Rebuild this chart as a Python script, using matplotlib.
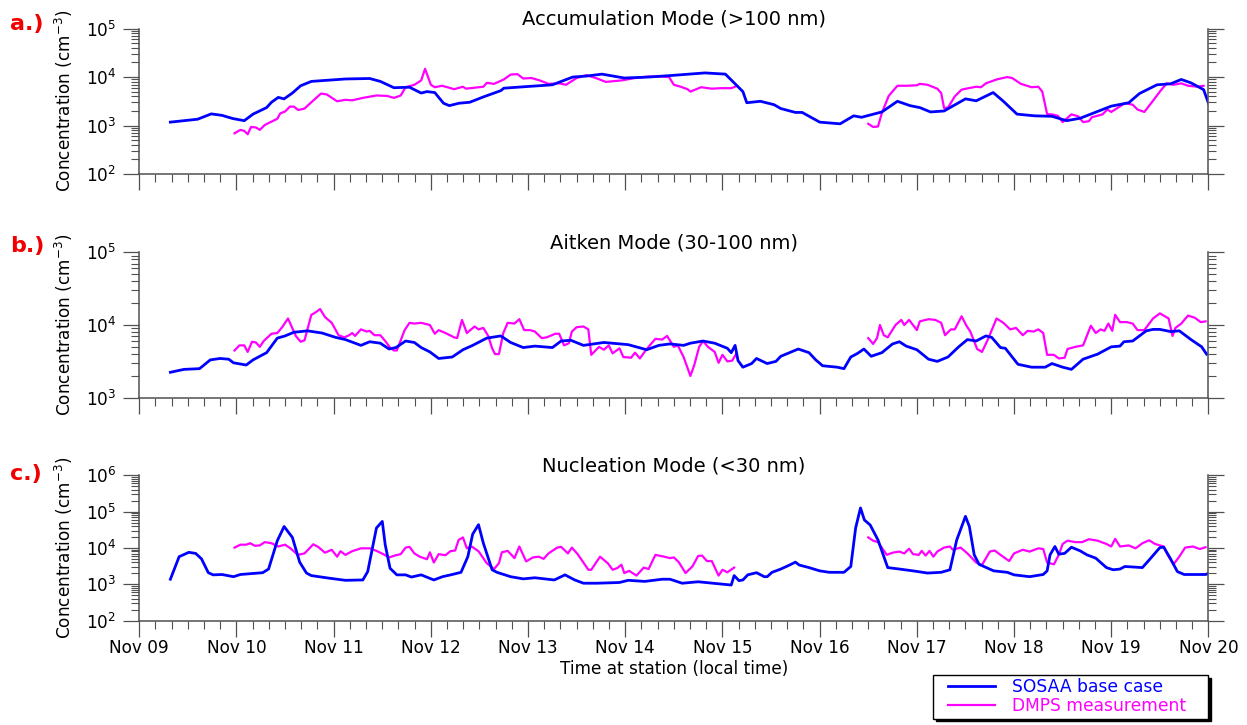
import numpy as np
import matplotlib.pyplot as plt
from matplotlib.ticker import LogLocator, NullFormatter
from matplotlib.legend_handler import HandlerLine2D

# time in days after Nov 09 00:00, values are log10 of concentration (cm-3)
day_labels = ["Nov 09", "Nov 10", "Nov 11", "Nov 12", "Nov 13", "Nov 14",
              "Nov 15", "Nov 16", "Nov 17", "Nov 18", "Nov 19", "Nov 20"]

# ---- a.) accumulation mode
acc_sosaa_t = [0.32, 0.60, 0.74, 0.85, 0.96, 1.08, 1.17, 1.31, 1.36, 1.43,
               1.49, 1.575, 1.66, 1.77, 1.91, 2.12, 2.37, 2.48, 2.62, 2.78,
               2.90, 2.96, 3.04, 3.13, 3.19, 3.29, 3.40, 3.54, 3.72, 3.75,
               3.89, 4.25, 4.46, 4.60, 4.76, 4.99, 5.24, 5.46, 5.82, 6.03,
               6.14, 6.21, 6.25, 6.39, 6.53, 6.60, 6.75, 6.82, 7.00, 7.21,
               7.35, 7.43, 7.64, 7.80, 7.93, 8.03, 8.14, 8.28, 8.50, 8.61,
               8.785, 8.89, 9.03, 9.21, 9.39, 9.54, 9.68, 10.0, 10.18, 10.29,
               10.47, 10.61, 10.72, 10.82, 10.95, 11.0]
acc_sosaa = [3.07, 3.13, 3.24, 3.21, 3.145, 3.10, 3.235, 3.37, 3.48, 3.58,
             3.55, 3.67, 3.82, 3.91, 3.93, 3.96, 3.97, 3.91, 3.78, 3.79,
             3.67, 3.70, 3.68, 3.46, 3.41, 3.46, 3.48, 3.59, 3.72, 3.77,
             3.79, 3.84, 4.00, 4.02, 4.06, 3.98, 4.00, 4.03, 4.085, 4.06,
             3.84, 3.70, 3.47, 3.50, 3.43, 3.35, 3.27, 3.27, 3.07, 3.035,
             3.20, 3.17, 3.28, 3.50, 3.41, 3.37, 3.28, 3.30, 3.55, 3.51,
             3.68, 3.50, 3.235, 3.20, 3.19, 3.10, 3.15, 3.40, 3.47, 3.66,
             3.84, 3.86, 3.95, 3.88, 3.74, 3.46]
acc_dmps_t1 = [0.98, 1.04, 1.08, 1.115, 1.15, 1.20, 1.24, 1.29, 1.38, 1.42,
               1.45, 1.50, 1.55, 1.59, 1.635, 1.70, 1.77, 1.87, 1.93, 2.035,
               2.12, 2.19, 2.30, 2.44, 2.55, 2.62, 2.69, 2.74, 2.83, 2.90,
               2.94, 3.00, 3.04, 3.115, 3.24, 3.33, 3.36, 3.54, 3.575, 3.65,
               3.75, 3.82, 3.89, 3.95, 4.035, 4.12, 4.21, 4.32, 4.39, 4.50,
               4.60, 4.71, 4.80, 4.96, 5.10, 5.24, 5.38, 5.45, 5.50, 5.57,
               5.64, 5.67, 5.78, 5.89, 5.98, 6.09, 6.13]
acc_dmps1 = [2.84, 2.91, 2.89, 2.82, 2.97, 2.96, 2.91, 3.01, 3.10, 3.14,
             3.25, 3.29, 3.39, 3.39, 3.32, 3.35, 3.48, 3.66, 3.64, 3.50,
             3.53, 3.52, 3.57, 3.62, 3.61, 3.57, 3.62, 3.79, 3.84, 3.93,
             4.17, 3.84, 3.79, 3.82, 3.75, 3.80, 3.76, 3.80, 3.88, 3.86,
             3.95, 4.05, 4.06, 3.97, 3.98, 3.93, 3.86, 3.87, 3.84, 3.98,
             4.04, 3.97, 3.90, 3.93, 3.98, 4.01, 4.01, 4.00, 3.84, 3.80,
             3.75, 3.70, 3.79, 3.76, 3.77, 3.77, 3.80]
acc_dmps_t2 = [7.50, 7.55, 7.60, 7.64, 7.71, 7.80, 7.89, 8.00, 8.03, 8.11,
               8.21, 8.25, 8.28, 8.32, 8.39, 8.46, 8.53, 8.61, 8.66, 8.71,
               8.82, 8.93, 8.98, 9.07, 9.18, 9.25, 9.29, 9.34, 9.39, 9.45,
               9.50, 9.59, 9.66, 9.71, 9.77, 9.80, 9.91, 9.96, 10.0, 10.07,
               10.14, 10.22, 10.27, 10.34, 10.41, 10.50, 10.57, 10.64, 10.72, 10.79,
               10.89, 10.95]
acc_dmps2 = [3.035, 2.97, 2.98, 3.26, 3.61, 3.82, 3.82, 3.83, 3.86, 3.84,
             3.76, 3.67, 3.36, 3.37, 3.60, 3.74, 3.77, 3.80, 3.79, 3.87,
             3.95, 4.00, 3.98, 3.86, 3.79, 3.80, 3.70, 3.235, 3.23, 3.20,
             3.07, 3.23, 3.19, 3.07, 3.09, 3.17, 3.23, 3.33, 3.28, 3.37,
             3.46, 3.43, 3.33, 3.28, 3.46, 3.70, 3.87, 3.84, 3.87, 3.82,
             3.80, 3.82]

# ---- b.) aitken mode
ait_sosaa_t = [0.32, 0.46, 0.62, 0.73, 0.83, 0.92, 0.97, 1.10, 1.17, 1.31,
               1.42, 1.50, 1.59, 1.73, 1.88, 2.02, 2.12, 2.28, 2.37, 2.48,
               2.57, 2.64, 2.74, 2.83, 2.90, 2.99, 3.08, 3.22, 3.33, 3.43,
               3.575, 3.72, 3.82, 3.95, 4.07, 4.25, 4.34, 4.44, 4.57, 4.78,
               5.03, 5.22, 5.345, 5.46, 5.60, 5.67, 5.80, 5.92, 6.05, 6.09,
               6.13, 6.16, 6.21, 6.30, 6.35, 6.46, 6.55, 6.60, 6.69, 6.78,
               6.89, 6.96, 7.03, 7.18, 7.25, 7.32, 7.39, 7.455, 7.53, 7.64,
               7.75, 7.82, 7.89, 8.00, 8.12, 8.21, 8.32, 8.43, 8.52, 8.61,
               8.71, 8.77, 8.86, 8.91, 9.04, 9.18, 9.32, 9.39, 9.50, 9.59,
               9.71, 9.86, 10.0, 10.09, 10.13, 10.22, 10.36, 10.43, 10.50, 10.61,
               10.70, 10.82, 10.93, 10.98]
ait_sosaa = [3.35, 3.39, 3.40, 3.52, 3.54, 3.53, 3.48, 3.45, 3.52, 3.62,
             3.82, 3.85, 3.90, 3.92, 3.89, 3.83, 3.80, 3.72, 3.77, 3.75,
             3.67, 3.69, 3.78, 3.76, 3.69, 3.63, 3.54, 3.56, 3.66, 3.72,
             3.82, 3.85, 3.76, 3.69, 3.71, 3.69, 3.78, 3.79, 3.72, 3.76,
             3.73, 3.66, 3.72, 3.74, 3.72, 3.75, 3.78, 3.75, 3.68, 3.62,
             3.72, 3.51, 3.42, 3.47, 3.54, 3.47, 3.50, 3.57, 3.62, 3.67,
             3.62, 3.52, 3.44, 3.42, 3.40, 3.56, 3.61, 3.67, 3.57, 3.62,
             3.74, 3.77, 3.71, 3.66, 3.53, 3.50, 3.56, 3.70, 3.80, 3.78,
             3.85, 3.83, 3.69, 3.68, 3.46, 3.42, 3.42, 3.47, 3.42, 3.39,
             3.53, 3.60, 3.70, 3.71, 3.77, 3.78, 3.92, 3.94, 3.94, 3.91,
             3.92, 3.80, 3.70, 3.60]
ait_dmps_t1 = [0.98, 1.03, 1.08, 1.115, 1.16, 1.20, 1.24, 1.28, 1.36, 1.42,
               1.47, 1.53, 1.61, 1.66, 1.70, 1.77, 1.81, 1.86, 1.91, 1.98,
               2.05, 2.11, 2.16, 2.19, 2.22, 2.28, 2.34, 2.37, 2.42, 2.48,
               2.53, 2.58, 2.62, 2.65, 2.73, 2.78, 2.83, 2.90, 2.99, 3.04,
               3.08, 3.15, 3.24, 3.27, 3.32, 3.37, 3.45, 3.49, 3.54, 3.59,
               3.63, 3.66, 3.70, 3.745, 3.79, 3.86, 3.91, 3.96, 4.02, 4.07,
               4.14, 4.19, 4.28, 4.32, 4.37, 4.42, 4.45, 4.50, 4.57, 4.62,
               4.65, 4.73, 4.78, 4.83, 4.87, 4.94, 4.98, 5.06, 5.10, 5.15,
               5.22, 5.31, 5.38, 5.43, 5.50, 5.54, 5.60, 5.67, 5.71, 5.76,
               5.80, 5.85, 5.92, 5.96, 6.00, 6.05, 6.10, 6.14]
ait_dmps1 = [3.65, 3.72, 3.72, 3.63, 3.77, 3.76, 3.70, 3.78, 3.88, 3.89,
             3.97, 4.09, 3.85, 3.77, 3.79, 4.14, 4.17, 4.22, 4.11, 4.03,
             3.86, 3.83, 3.86, 3.89, 3.85, 3.94, 3.91, 3.92, 3.86, 3.86,
             3.78, 3.69, 3.65, 3.65, 3.93, 4.03, 4.02, 4.03, 4.00, 3.88,
             3.93, 3.89, 3.83, 3.82, 4.07, 3.89, 3.98, 3.94, 3.96, 3.85,
             3.68, 3.60, 3.60, 3.89, 4.03, 4.02, 4.08, 3.93, 3.93, 3.91,
             3.82, 3.83, 3.88, 3.88, 3.72, 3.75, 3.91, 3.97, 3.98, 3.94,
             3.59, 3.70, 3.66, 3.72, 3.61, 3.68, 3.56, 3.55, 3.62, 3.54,
             3.67, 3.81, 3.80, 3.85, 3.70, 3.72, 3.56, 3.30, 3.45, 3.70,
             3.78, 3.70, 3.63, 3.48, 3.59, 3.50, 3.51, 3.60]
ait_dmps_t2 = [7.50, 7.55, 7.59, 7.62, 7.66, 7.70, 7.78, 7.84, 7.87, 7.92,
               8.00, 8.03, 8.12, 8.19, 8.25, 8.29, 8.35, 8.39, 8.46, 8.51,
               8.55, 8.62, 8.67, 8.73, 8.82, 8.89, 8.96, 9.02, 9.09, 9.14,
               9.20, 9.25, 9.30, 9.34, 9.41, 9.46, 9.52, 9.55, 9.63, 9.71,
               9.79, 9.84, 9.89, 9.93, 9.97, 10.01, 10.04, 10.09, 10.16, 10.22,
               10.27, 10.34, 10.43, 10.50, 10.59, 10.63, 10.66, 10.72, 10.79, 10.86,
               10.92, 10.97]
ait_dmps2 = [3.82, 3.74, 3.82, 4.00, 3.86, 3.83, 4.00, 4.07, 4.00, 4.07,
             3.93, 4.05, 4.08, 4.07, 4.03, 3.86, 3.94, 3.94, 4.12, 3.99,
             3.91, 3.67, 3.63, 3.80, 4.09, 4.03, 3.94, 3.96, 3.86, 3.92,
             3.91, 3.94, 3.89, 3.59, 3.59, 3.54, 3.55, 3.67, 3.70, 3.72,
             3.99, 3.89, 3.94, 3.92, 4.02, 3.92, 4.14, 4.04, 4.04, 4.02,
             3.93, 3.93, 4.09, 4.16, 4.09, 3.85, 3.96, 4.02, 4.13, 4.10,
             4.04, 4.05]

# ---- c.) nucleation mode
nuc_sosaa_t = [0.32, 0.41, 0.51, 0.58, 0.64, 0.71, 0.76, 0.85, 0.97, 1.04,
               1.27, 1.33, 1.42, 1.49, 1.575, 1.65, 1.72, 1.77, 1.95, 2.12,
               2.30, 2.35, 2.44, 2.50, 2.53, 2.58, 2.65, 2.74, 2.80, 2.90,
               3.03, 3.12, 3.22, 3.31, 3.38, 3.43, 3.49, 3.54, 3.63, 3.68,
               3.82, 3.95, 4.07, 4.27, 4.38, 4.48, 4.57, 4.71, 4.94, 5.03,
               5.20, 5.38, 5.46, 5.585, 5.75, 6.09, 6.12, 6.17, 6.21, 6.26,
               6.35, 6.43, 6.46, 6.51, 6.60, 6.69, 6.75, 6.79, 6.89, 7.00,
               7.10, 7.25, 7.32, 7.37, 7.42, 7.46, 7.52, 7.60, 7.70, 7.82,
               7.96, 8.11, 8.25, 8.34, 8.41, 8.50, 8.54, 8.59, 8.64, 8.79,
               8.93, 9.00, 9.16, 9.30, 9.34, 9.37, 9.42, 9.46, 9.52, 9.59,
               9.68, 9.75, 9.84, 9.95, 10.02, 10.09, 10.14, 10.32, 10.39, 10.50,
               10.54, 10.61, 10.68, 10.75, 10.97, 11.0]
nuc_sosaa = [3.14, 3.76, 3.88, 3.85, 3.70, 3.32, 3.26, 3.27, 3.21, 3.27,
             3.32, 3.42, 4.20, 4.59, 4.29, 3.61, 3.31, 3.24, 3.17, 3.11,
             3.12, 3.35, 4.55, 4.73, 4.09, 3.44, 3.26, 3.26, 3.20, 3.26,
             3.12, 3.21, 3.27, 3.33, 3.76, 4.38, 4.64, 4.13, 3.40, 3.33,
             3.21, 3.15, 3.18, 3.12, 3.26, 3.12, 3.03, 3.03, 3.05, 3.11,
             3.08, 3.14, 3.14, 3.03, 3.07, 2.98, 3.24, 3.10, 3.12, 3.26,
             3.32, 3.21, 3.21, 3.33, 3.42, 3.53, 3.61, 3.53, 3.46, 3.37,
             3.33, 3.33, 3.49, 4.55, 5.10, 4.77, 4.63, 4.22, 3.46, 3.42,
             3.37, 3.31, 3.33, 3.40, 4.22, 4.87, 4.59, 3.81, 3.55, 3.37,
             3.33, 3.26, 3.21, 3.27, 3.37, 3.81, 4.04, 3.83, 3.85, 4.02,
             3.92, 3.81, 3.72, 3.46, 3.40, 3.42, 3.49, 3.46, 3.67, 4.01,
             4.02, 3.70, 3.35, 3.27, 3.27, 3.30]
nuc_dmps_t1 = [0.98, 1.04, 1.10, 1.14, 1.19, 1.24, 1.29, 1.36, 1.43, 1.50,
               1.56, 1.63, 1.70, 1.79, 1.84, 1.91, 1.98, 2.035, 2.07, 2.12,
               2.19, 2.28, 2.37, 2.44, 2.51, 2.57, 2.64, 2.69, 2.74, 2.78,
               2.83, 2.885, 2.96, 2.99, 3.03, 3.08, 3.15, 3.20, 3.25, 3.285,
               3.33, 3.37, 3.42, 3.49, 3.575, 3.65, 3.70, 3.73, 3.79, 3.86,
               3.91, 3.98, 4.05, 4.11, 4.16, 4.21, 4.30, 4.34, 4.41, 4.45,
               4.51, 4.62, 4.65, 4.74, 4.82, 4.87, 4.92, 4.96, 4.99, 5.04,
               5.115, 5.19, 5.24, 5.31, 5.40, 5.46, 5.50, 5.55, 5.62, 5.69,
               5.75, 5.79, 5.84, 5.89, 5.96, 6.00, 6.05, 6.12]
nuc_dmps1 = [4.01, 4.09, 4.09, 4.13, 4.06, 4.07, 4.16, 4.13, 4.04, 4.09,
             3.98, 3.81, 3.85, 4.10, 4.03, 3.87, 3.95, 3.76, 3.91, 3.81,
             3.91, 3.99, 3.99, 3.92, 3.83, 3.74, 3.80, 3.83, 4.01, 4.03,
             3.85, 3.76, 3.69, 3.88, 3.60, 3.83, 3.80, 3.91, 3.93, 4.22,
             4.29, 3.99, 4.04, 3.91, 3.58, 3.42, 3.58, 3.88, 3.92, 3.72,
             4.04, 3.63, 3.74, 3.76, 3.70, 3.85, 4.01, 4.03, 3.85, 4.01,
             3.83, 3.40, 3.40, 3.76, 3.58, 3.40, 3.45, 3.54, 3.31, 3.37,
             3.24, 3.46, 3.42, 3.81, 3.76, 3.72, 3.74, 3.61, 3.31, 3.49,
             3.78, 3.79, 3.64, 3.64, 3.24, 3.40, 3.33, 3.46]
nuc_dmps_t2 = [7.50, 7.55, 7.60, 7.69, 7.75, 7.82, 7.87, 7.92, 7.96, 8.02,
               8.05, 8.09, 8.13, 8.17, 8.21, 8.28, 8.34, 8.37, 8.45, 8.52,
               8.61, 8.67, 8.75, 8.80, 8.87, 8.95, 9.00, 9.09, 9.16, 9.25,
               9.30, 9.34, 9.41, 9.46, 9.50, 9.55, 9.63, 9.70, 9.77, 9.86,
               9.95, 10.0, 10.04, 10.09, 10.18, 10.25, 10.32, 10.39, 10.45, 10.54,
               10.58, 10.64, 10.70, 10.76, 10.84, 10.91, 10.97]
nuc_dmps2 = [4.29, 4.20, 4.16, 3.81, 3.87, 3.90, 3.85, 3.98, 3.83, 3.81,
             3.92, 3.79, 3.92, 3.76, 3.90, 4.01, 4.04, 3.95, 4.01, 3.85,
             3.60, 3.53, 3.90, 3.93, 3.79, 3.64, 3.85, 3.95, 3.90, 3.99,
             3.97, 3.60, 3.55, 3.81, 4.11, 4.20, 4.16, 4.16, 4.24, 4.20,
             4.11, 4.04, 4.25, 4.04, 4.07, 3.99, 4.13, 4.21, 4.11, 4.04,
             3.81, 3.55, 3.76, 4.01, 4.04, 3.97, 4.02]


class InsetLine(HandlerLine2D):
	# legend line that starts a little in from the frame edge
	def get_xdata(self, legend, xdescent, ydescent, width, height, fontsize):
		xdata, xmark = super().get_xdata(legend, xdescent, ydescent, width, height, fontsize)
		return np.array([xdata[0] + 0.2 * width, xdata[-1]]), xmark


def style_axis(ax, ylo, yhi, last):
	gray = "#505050"
	ax.set_yscale("log")
	ax.set_xlim(0, 11)
	ax.set_ylim(ylo, yhi)
	ax.spines["top"].set_visible(False)
	for s in ["left", "right", "bottom"]:
		ax.spines[s].set_color(gray)
		ax.spines[s].set_linewidth(1.1)
	ax.set_xticks(range(12))
	ax.set_xticks(np.arange(0, 11.001, 1 / 6), minor=True)
	ax.yaxis.set_major_locator(LogLocator(base=10, numticks=20))
	ax.yaxis.set_minor_locator(LogLocator(base=10, subs=np.arange(2, 10), numticks=100))
	ax.yaxis.set_minor_formatter(NullFormatter())
	ax.tick_params(which="major", length=11.5, width=0.9, color=gray, labelsize=12.2)
	ax.tick_params(which="minor", length=5.5, width=0.8, color=gray)
	ax.tick_params(axis="y", which="both", right=True, pad=5)
	ax.tick_params(axis="x", which="both", pad=2)
	if last:
		ax.set_xticklabels(day_labels)
	else:
		ax.tick_params(axis="x", labelbottom=False)
	ax.set_ylabel("Concentration (cm$^{-3}$)", fontsize=12.2)
	ax.yaxis.set_label_coords(-0.060, 0.5)


def main():
	fig = plt.figure(figsize=(12.47, 7.25), dpi=100)
	left, width, height = 0.1117, 0.8574, 0.2006
	ax_a = fig.add_axes([left, 0.7600, width, height])
	ax_b = fig.add_axes([left, 0.4514, width, height])
	ax_c = fig.add_axes([left, 0.1439, width, height])

	blue = "#0000ff"
	pink = "#ff00ff"
	panels = [
		(ax_a, acc_sosaa_t, acc_sosaa, [(acc_dmps_t1, acc_dmps1), (acc_dmps_t2, acc_dmps2)],
		 1e2, 1e5, "Accumulation Mode (>100 nm)", "a.)", 24),
		(ax_b, ait_sosaa_t, ait_sosaa, [(ait_dmps_t1, ait_dmps1), (ait_dmps_t2, ait_dmps2)],
		 1e3, 1e5, "Aitken Mode (30-100 nm)", "b.)", 246),
		(ax_c, nuc_sosaa_t, nuc_sosaa, [(nuc_dmps_t1, nuc_dmps1), (nuc_dmps_t2, nuc_dmps2)],
		 1e2, 1e6, "Nucleation Mode (<30 nm)", "c.)", 474),
	]
	for ax, st, sv, dmps, ylo, yhi, title, tag, tag_y in panels:
		for k, (dt, dv) in enumerate(dmps):
			ax.plot(dt, 10 ** np.array(dv), color=pink, lw=1.6,
					label="DMPS measurement" if k == 0 else None)
		ax.plot(st, 10 ** np.array(sv), color=blue, lw=2.0, label="SOSAA base case")
		style_axis(ax, ylo, yhi, ax is ax_c)
		ax.set_title(title, fontsize=14, pad=3)
		fig.text(10 / 1247, 1 - tag_y / 725, tag, color="#f00000", fontsize=16,
				 fontweight="bold", va="center", ha="left")

	ax_c.set_xlabel("Time at station (local time)", fontsize=12.2, labelpad=2)

	handles, labels = ax_c.get_legend_handles_labels()
	order = [labels.index("SOSAA base case"), labels.index("DMPS measurement")]
	leg = fig.legend([handles[i] for i in order], [labels[i] for i in order],
					 loc="upper left",
					 bbox_to_anchor=(933 / 1247, 1 - 721 / 725, 275 / 1247, 46 / 725),
					 mode="expand", handler_map={handles[order[0]]: InsetLine(),
												 handles[order[1]]: InsetLine()},
					 fontsize=12.3, frameon=True, fancybox=False,
					 shadow={"color": "black", "alpha": 1.0},
					 edgecolor="black", labelcolor="linecolor",
					 handlelength=3.43, handletextpad=1.0, borderpad=0.2,
					 labelspacing=0.05, borderaxespad=0)
	leg.get_frame().set_linewidth(1.0)

	fig.savefig("out.png", dpi=100)


if __name__ == '__main__':
	main()
